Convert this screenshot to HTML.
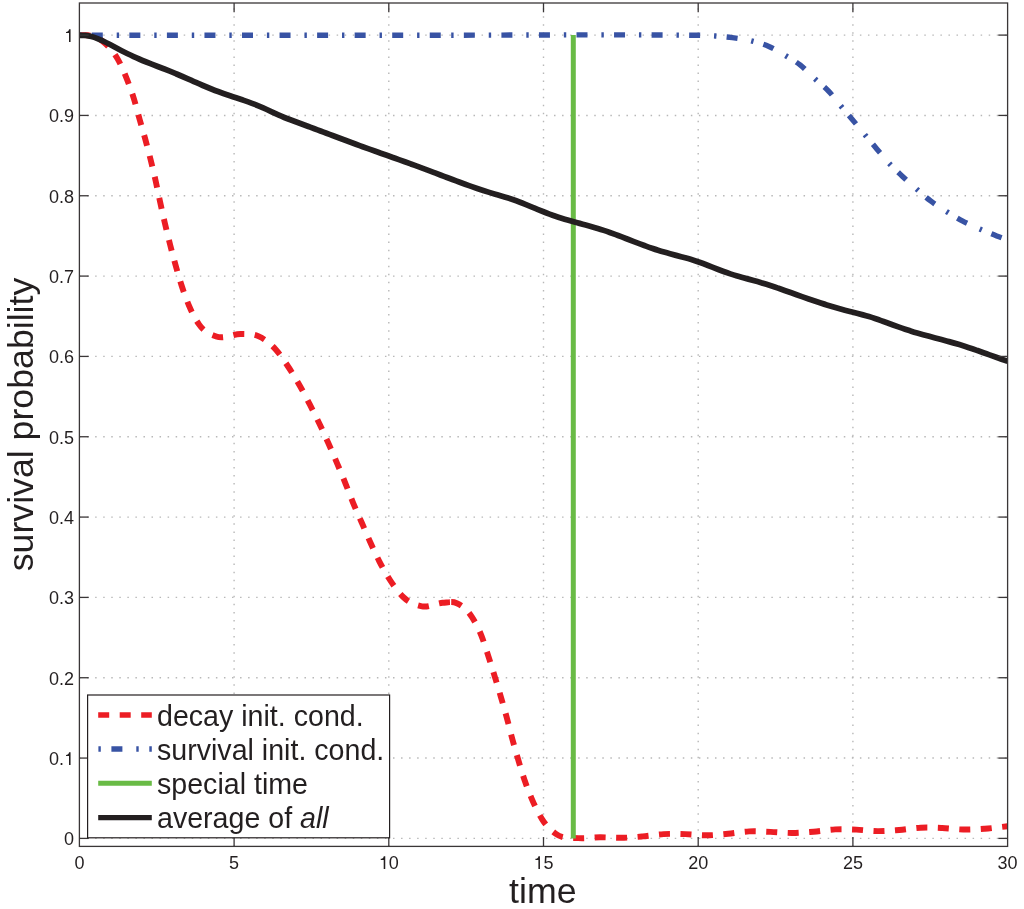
<!DOCTYPE html>
<html><head><meta charset="utf-8"><title>survival probability</title>
<style>html,body{margin:0;padding:0;background:#fff;width:1024px;height:909px;overflow:hidden;}svg{display:block;font-family:"Liberation Sans",sans-serif;}</style>
</head><body><div style="width:1024px;height:909px;will-change:transform;">
<svg width="1024" height="909" viewBox="0 0 1024 909">
<defs><clipPath id="axclip"><rect x="79.40" y="3.00" width="928.20" height="843.40"/></clipPath></defs>
<rect width="1024" height="909" fill="#fff"/>
<g stroke="#b8b8b8" stroke-width="1.4" stroke-dasharray="1.5 6.55" fill="none"><line x1="234.10" y1="846.40" x2="234.10" y2="3.00" stroke-dashoffset="0.45"/><line x1="388.80" y1="846.40" x2="388.80" y2="3.00" stroke-dashoffset="0.45"/><line x1="543.50" y1="846.40" x2="543.50" y2="3.00" stroke-dashoffset="0.45"/><line x1="698.20" y1="846.40" x2="698.20" y2="3.00" stroke-dashoffset="0.45"/><line x1="852.90" y1="846.40" x2="852.90" y2="3.00" stroke-dashoffset="0.45"/><line x1="79.40" y1="838.40" x2="1007.60" y2="838.40" stroke-dashoffset="0.35"/><line x1="79.40" y1="758.07" x2="1007.60" y2="758.07" stroke-dashoffset="0.35"/><line x1="79.40" y1="677.74" x2="1007.60" y2="677.74" stroke-dashoffset="0.35"/><line x1="79.40" y1="597.41" x2="1007.60" y2="597.41" stroke-dashoffset="0.35"/><line x1="79.40" y1="517.08" x2="1007.60" y2="517.08" stroke-dashoffset="0.35"/><line x1="79.40" y1="436.75" x2="1007.60" y2="436.75" stroke-dashoffset="0.35"/><line x1="79.40" y1="356.42" x2="1007.60" y2="356.42" stroke-dashoffset="0.35"/><line x1="79.40" y1="276.09" x2="1007.60" y2="276.09" stroke-dashoffset="0.35"/><line x1="79.40" y1="195.76" x2="1007.60" y2="195.76" stroke-dashoffset="0.35"/><line x1="79.40" y1="115.43" x2="1007.60" y2="115.43" stroke-dashoffset="0.35"/><line x1="79.40" y1="35.10" x2="1007.60" y2="35.10" stroke-dashoffset="0.35"/></g>
<g clip-path="url(#axclip)" fill="none" stroke-width="5.4">
<clipPath id="rclipA"><rect x="0" y="0" width="450" height="909"/></clipPath><clipPath id="rclipB"><rect x="450" y="0" width="600" height="909"/></clipPath>
<path d="M79.40,35.10 C82.27,35.17 85.13,34.95 88.00,35.30 C90.67,35.62 93.33,35.84 96.00,37.00 C99.00,38.31 102.00,40.51 105.00,43.20 C107.17,45.14 109.33,47.27 111.50,50.00 C113.53,52.56 115.57,55.36 117.60,58.90 C120.57,64.07 123.53,70.68 126.50,78.10 C128.90,84.10 131.30,90.38 133.70,98.10 C135.73,104.64 137.77,112.80 139.80,120.00 C141.67,126.61 143.53,132.73 145.40,139.60 C147.20,146.22 149.00,153.12 150.80,160.40 C152.43,167.01 154.07,173.77 155.70,181.10 C157.17,187.68 158.63,195.17 160.10,201.90 C161.67,209.09 163.23,216.08 164.80,222.80 C166.57,230.38 168.33,237.64 170.10,244.60 C171.93,251.83 173.77,258.75 175.60,265.30 C177.60,272.45 179.60,279.34 181.60,285.50 C184.10,293.20 186.60,300.02 189.10,305.90 C192.40,313.67 195.70,319.65 199.00,324.40 C204.73,332.66 210.47,334.27 216.20,336.40 C224.47,339.48 232.73,333.69 241.00,334.00 C246.93,334.23 252.87,333.65 258.80,336.40 C264.37,338.98 269.93,343.12 275.50,349.30 C279.80,354.08 284.10,360.49 288.40,367.00 C292.30,372.90 296.20,379.28 300.10,386.20 C303.37,392.00 306.63,398.36 309.90,404.70 C313.00,410.71 316.10,416.73 319.20,423.20 C322.27,429.60 325.33,436.42 328.40,443.30 C331.30,449.81 334.20,456.47 337.10,463.30 C339.87,469.82 342.63,476.46 345.40,483.30 C347.97,489.65 350.53,496.59 353.10,502.80 C355.97,509.73 358.83,515.92 361.70,522.50 C364.60,529.15 367.50,536.10 370.40,542.50 C373.37,549.05 376.33,555.52 379.30,561.30 C382.87,568.24 386.43,574.50 390.00,580.00 C394.40,586.78 398.80,592.77 403.20,597.00 C409.47,603.02 415.73,605.18 422.00,606.30 C428.90,607.53 435.80,603.16 442.70,602.80 C447.40,602.56 452.10,601.06 456.80,603.20 C461.87,605.50 466.93,609.17 472.00,617.10 C475.13,622.01 478.27,627.67 481.40,635.60 C483.77,641.59 486.13,649.30 488.50,656.60 C490.67,663.28 492.83,670.34 495.00,677.40 C497.00,683.92 499.00,690.46 501.00,697.30 C502.97,704.03 504.93,710.83 506.90,718.10 C508.70,724.75 510.50,732.25 512.30,738.90 C514.27,746.17 516.23,753.07 518.20,759.70 C520.37,767.00 522.53,774.20 524.70,780.50 C527.20,787.77 529.70,794.02 532.20,799.80 C535.47,807.35 538.73,813.89 542.00,819.10 C546.63,826.49 551.27,830.52 555.90,833.90 C563.37,839.34 570.83,837.55 578.30,838.10 C585.53,838.63 592.77,837.35 600.00,837.30 C607.07,837.26 614.13,837.95 621.20,837.80 C628.30,837.65 635.40,837.02 642.50,836.40 C649.53,835.78 656.57,834.49 663.60,834.10 C670.83,833.70 678.07,833.89 685.30,834.10 C692.40,834.30 699.50,835.35 706.60,835.30 C713.77,835.25 720.93,834.41 728.10,833.75 C735.13,833.10 742.17,831.71 749.20,831.40 C756.33,831.08 763.47,831.64 770.60,831.90 C777.80,832.17 785.00,833.04 792.20,833.00 C799.33,832.96 806.47,832.30 813.60,831.70 C820.80,831.10 828.00,829.74 835.20,829.40 C842.22,829.07 849.23,829.32 856.25,829.60 C863.43,829.88 870.62,831.04 877.80,831.10 C884.93,831.16 892.07,830.57 899.20,830.00 C906.33,829.43 913.47,828.04 920.60,827.70 C927.80,827.36 935.00,827.69 942.20,828.00 C949.23,828.30 956.27,829.37 963.30,829.50 C970.43,829.63 977.57,829.26 984.70,828.75 C992.33,828.20 999.97,827.05 1007.60,826.20" clip-path="url(#rclipA)" stroke="#ec1d24" stroke-width="5.9" stroke-dasharray="11 10.5" stroke-dashoffset="0"/>
<path d="M79.40,35.10 C82.27,35.17 85.13,34.95 88.00,35.30 C90.67,35.62 93.33,35.84 96.00,37.00 C99.00,38.31 102.00,40.51 105.00,43.20 C107.17,45.14 109.33,47.27 111.50,50.00 C113.53,52.56 115.57,55.36 117.60,58.90 C120.57,64.07 123.53,70.68 126.50,78.10 C128.90,84.10 131.30,90.38 133.70,98.10 C135.73,104.64 137.77,112.80 139.80,120.00 C141.67,126.61 143.53,132.73 145.40,139.60 C147.20,146.22 149.00,153.12 150.80,160.40 C152.43,167.01 154.07,173.77 155.70,181.10 C157.17,187.68 158.63,195.17 160.10,201.90 C161.67,209.09 163.23,216.08 164.80,222.80 C166.57,230.38 168.33,237.64 170.10,244.60 C171.93,251.83 173.77,258.75 175.60,265.30 C177.60,272.45 179.60,279.34 181.60,285.50 C184.10,293.20 186.60,300.02 189.10,305.90 C192.40,313.67 195.70,319.65 199.00,324.40 C204.73,332.66 210.47,334.27 216.20,336.40 C224.47,339.48 232.73,333.69 241.00,334.00 C246.93,334.23 252.87,333.65 258.80,336.40 C264.37,338.98 269.93,343.12 275.50,349.30 C279.80,354.08 284.10,360.49 288.40,367.00 C292.30,372.90 296.20,379.28 300.10,386.20 C303.37,392.00 306.63,398.36 309.90,404.70 C313.00,410.71 316.10,416.73 319.20,423.20 C322.27,429.60 325.33,436.42 328.40,443.30 C331.30,449.81 334.20,456.47 337.10,463.30 C339.87,469.82 342.63,476.46 345.40,483.30 C347.97,489.65 350.53,496.59 353.10,502.80 C355.97,509.73 358.83,515.92 361.70,522.50 C364.60,529.15 367.50,536.10 370.40,542.50 C373.37,549.05 376.33,555.52 379.30,561.30 C382.87,568.24 386.43,574.50 390.00,580.00 C394.40,586.78 398.80,592.77 403.20,597.00 C409.47,603.02 415.73,605.18 422.00,606.30 C428.90,607.53 435.80,603.16 442.70,602.80 C447.40,602.56 452.10,601.06 456.80,603.20 C461.87,605.50 466.93,609.17 472.00,617.10 C475.13,622.01 478.27,627.67 481.40,635.60 C483.77,641.59 486.13,649.30 488.50,656.60 C490.67,663.28 492.83,670.34 495.00,677.40 C497.00,683.92 499.00,690.46 501.00,697.30 C502.97,704.03 504.93,710.83 506.90,718.10 C508.70,724.75 510.50,732.25 512.30,738.90 C514.27,746.17 516.23,753.07 518.20,759.70 C520.37,767.00 522.53,774.20 524.70,780.50 C527.20,787.77 529.70,794.02 532.20,799.80 C535.47,807.35 538.73,813.89 542.00,819.10 C546.63,826.49 551.27,830.52 555.90,833.90 C563.37,839.34 570.83,837.55 578.30,838.10 C585.53,838.63 592.77,837.35 600.00,837.30 C607.07,837.26 614.13,837.95 621.20,837.80 C628.30,837.65 635.40,837.02 642.50,836.40 C649.53,835.78 656.57,834.49 663.60,834.10 C670.83,833.70 678.07,833.89 685.30,834.10 C692.40,834.30 699.50,835.35 706.60,835.30 C713.77,835.25 720.93,834.41 728.10,833.75 C735.13,833.10 742.17,831.71 749.20,831.40 C756.33,831.08 763.47,831.64 770.60,831.90 C777.80,832.17 785.00,833.04 792.20,833.00 C799.33,832.96 806.47,832.30 813.60,831.70 C820.80,831.10 828.00,829.74 835.20,829.40 C842.22,829.07 849.23,829.32 856.25,829.60 C863.43,829.88 870.62,831.04 877.80,831.10 C884.93,831.16 892.07,830.57 899.20,830.00 C906.33,829.43 913.47,828.04 920.60,827.70 C927.80,827.36 935.00,827.69 942.20,828.00 C949.23,828.30 956.27,829.37 963.30,829.50 C970.43,829.63 977.57,829.26 984.70,828.75 C992.33,828.20 999.97,827.05 1007.60,826.20" clip-path="url(#rclipB)" stroke="#ec1d24" stroke-width="5.9" stroke-dasharray="11 10.5" stroke-dashoffset="9.24"/>
<path d="M79.4,35.2 H441" stroke="#3853a4" stroke-dasharray="11 13.9 2.4 10.25" stroke-dashoffset="25.15"/>
<path d="M441.00,35.20 C524.00,35.20 607.00,34.40 690.00,35.20 C693.33,35.23 696.67,35.22 700.00,35.30 C705.07,35.42 710.13,35.65 715.20,36.00 C720.87,36.39 726.53,36.86 732.20,37.60 C738.90,38.48 745.60,39.40 752.30,41.10 C757.83,42.50 763.37,44.00 768.90,46.40 C774.73,48.93 780.57,52.58 786.40,56.10 C790.97,58.86 795.53,61.33 800.10,64.90 C805.30,68.97 810.50,74.84 815.70,79.60 C820.07,83.60 824.43,86.66 828.80,91.30 C832.90,95.65 837.00,101.39 841.10,106.30 C844.90,110.85 848.70,115.18 852.50,119.70 C856.83,124.86 861.17,130.20 865.50,135.40 C869.27,139.92 873.03,144.46 876.80,148.90 C881.23,154.12 885.67,159.59 890.10,164.30 C894.17,168.62 898.23,172.37 902.30,176.20 C907.33,180.94 912.37,185.43 917.40,189.80 C921.80,193.62 926.20,197.54 930.60,200.90 C936.20,205.18 941.80,208.61 947.40,212.10 C952.37,215.19 957.33,218.16 962.30,220.80 C968.47,224.07 974.63,226.72 980.80,229.40 C986.10,231.70 991.40,233.89 996.70,235.90 C1000.33,237.28 1003.97,238.50 1007.60,239.80" stroke="#3853a4" stroke-dasharray="11 13.9 2.4 10.25" stroke-dashoffset="14.7"/>
<line x1="573.30" y1="838.40" x2="573.30" y2="35.10" stroke="#69bb46" stroke-width="5"/>
<path d="M79.40,35.44 C81.41,35.22 83.42,35.23 85.43,35.44 C87.44,35.64 89.45,36.03 91.45,36.57 C93.46,37.10 95.47,37.79 97.48,38.58 C99.49,39.37 101.50,40.27 103.51,41.24 C105.52,42.20 107.53,43.23 109.54,44.29 C111.55,45.35 113.55,46.43 115.56,47.50 C117.57,48.58 119.58,49.65 121.59,50.71 C123.60,51.76 125.61,52.78 127.62,53.77 C129.63,54.76 131.64,55.70 133.65,56.62 C135.65,57.53 137.66,58.41 139.67,59.26 C141.68,60.11 143.69,60.93 145.70,61.74 C147.71,62.55 149.72,63.34 151.73,64.12 C153.74,64.90 155.75,65.68 157.75,66.45 C159.76,67.22 161.77,68.00 163.78,68.78 C165.79,69.56 167.80,70.35 169.81,71.16 C171.82,71.97 173.83,72.80 175.84,73.65 C177.85,74.50 179.85,75.37 181.86,76.24 C183.87,77.12 185.88,78.00 187.89,78.89 C189.90,79.78 191.91,80.67 193.92,81.56 C195.93,82.44 197.94,83.33 199.95,84.20 C201.95,85.07 203.96,85.93 205.97,86.77 C207.98,87.61 209.99,88.43 212.00,89.23 C214.01,90.03 216.02,90.80 218.03,91.54 C220.04,92.28 222.05,92.99 224.05,93.69 C226.06,94.38 228.07,95.06 230.08,95.74 C232.09,96.41 234.10,97.08 236.11,97.75 C238.12,98.41 240.13,99.09 242.14,99.77 C244.15,100.46 246.15,101.16 248.16,101.88 C250.17,102.60 252.18,103.34 254.19,104.12 C256.20,104.90 258.21,105.71 260.22,106.56 C262.23,107.41 264.24,108.31 266.25,109.25 C268.25,110.19 270.26,111.15 272.27,112.11 C274.28,113.07 276.29,114.02 278.30,114.92 C280.31,115.82 282.32,116.67 284.33,117.47 C286.34,118.28 288.35,119.04 290.35,119.79 C292.36,120.54 294.37,121.27 296.38,122.00 C298.39,122.74 300.40,123.47 302.41,124.22 C304.42,124.96 306.43,125.71 308.44,126.46 C310.45,127.20 312.45,127.96 314.46,128.71 C316.47,129.46 318.48,130.22 320.49,130.97 C322.50,131.73 324.51,132.48 326.52,133.24 C328.53,134.00 330.54,134.75 332.55,135.51 C334.55,136.27 336.56,137.02 338.57,137.78 C340.58,138.53 342.59,139.28 344.60,140.03 C346.61,140.78 348.62,141.53 350.63,142.27 C352.64,143.02 354.65,143.76 356.65,144.50 C358.66,145.23 360.67,145.97 362.68,146.70 C364.69,147.43 366.70,148.15 368.71,148.87 C370.72,149.59 372.73,150.31 374.74,151.03 C376.75,151.75 378.75,152.46 380.76,153.17 C382.77,153.89 384.78,154.60 386.79,155.31 C388.80,156.03 390.81,156.74 392.82,157.45 C394.83,158.17 396.84,158.88 398.85,159.60 C400.85,160.31 402.86,161.03 404.87,161.75 C406.88,162.47 408.89,163.20 410.90,163.93 C412.91,164.65 414.92,165.39 416.93,166.12 C418.94,166.86 420.95,167.60 422.95,168.35 C424.96,169.10 426.97,169.85 428.98,170.61 C430.99,171.37 433.00,172.13 435.01,172.89 C437.02,173.66 439.03,174.43 441.04,175.19 C443.05,175.96 445.05,176.72 447.06,177.49 C449.07,178.25 451.08,179.01 453.09,179.77 C455.10,180.52 457.11,181.27 459.12,182.02 C461.13,182.76 463.14,183.50 465.15,184.22 C467.15,184.95 469.16,185.67 471.17,186.38 C473.18,187.08 475.19,187.78 477.20,188.46 C479.21,189.14 481.22,189.81 483.23,190.46 C485.24,191.11 487.25,191.75 489.25,192.37 C491.26,192.98 493.27,193.59 495.28,194.19 C497.29,194.79 499.30,195.38 501.31,195.99 C503.32,196.59 505.33,197.20 507.34,197.84 C509.35,198.47 511.35,199.12 513.36,199.81 C515.37,200.49 517.38,201.21 519.39,201.96 C521.40,202.71 523.41,203.51 525.42,204.32 C527.43,205.14 529.44,205.97 531.45,206.81 C533.45,207.65 535.46,208.50 537.47,209.33 C539.48,210.16 541.49,210.98 543.50,211.78 C545.51,212.58 547.52,213.36 549.53,214.11 C551.54,214.86 553.55,215.58 555.55,216.26 C557.56,216.95 559.57,217.60 561.58,218.23 C563.59,218.86 565.60,219.47 567.61,220.05 C569.62,220.63 571.63,221.20 573.64,221.75 C575.65,222.31 577.65,222.85 579.66,223.39 C581.67,223.93 583.68,224.47 585.69,225.01 C587.70,225.56 589.71,226.11 591.72,226.69 C593.73,227.26 595.74,227.84 597.75,228.46 C599.75,229.07 601.76,229.71 603.77,230.38 C605.78,231.05 607.79,231.74 609.80,232.46 C611.81,233.17 613.82,233.91 615.83,234.65 C617.84,235.40 619.85,236.16 621.85,236.93 C623.86,237.69 625.87,238.47 627.88,239.24 C629.89,240.02 631.90,240.80 633.91,241.57 C635.92,242.34 637.93,243.10 639.94,243.86 C641.95,244.62 643.95,245.36 645.96,246.09 C647.97,246.82 649.98,247.54 651.99,248.23 C654.00,248.92 656.01,249.60 658.02,250.24 C660.03,250.89 662.04,251.51 664.05,252.10 C666.05,252.69 668.06,253.25 670.07,253.79 C672.08,254.33 674.09,254.86 676.10,255.38 C678.11,255.90 680.12,256.43 682.13,256.96 C684.14,257.49 686.15,258.04 688.15,258.61 C690.16,259.19 692.17,259.79 694.18,260.43 C696.19,261.07 698.20,261.76 700.21,262.49 C702.22,263.21 704.23,263.97 706.24,264.75 C708.25,265.53 710.25,266.32 712.26,267.12 C714.27,267.92 716.28,268.71 718.29,269.50 C720.30,270.28 722.31,271.05 724.32,271.78 C726.33,272.52 728.34,273.22 730.35,273.88 C732.35,274.53 734.36,275.16 736.37,275.75 C738.38,276.35 740.39,276.92 742.40,277.48 C744.41,278.03 746.42,278.58 748.43,279.12 C750.44,279.67 752.45,280.21 754.45,280.77 C756.46,281.32 758.47,281.89 760.48,282.48 C762.49,283.07 764.50,283.68 766.51,284.32 C768.52,284.95 770.53,285.60 772.54,286.27 C774.55,286.93 776.55,287.62 778.56,288.31 C780.57,289.00 782.58,289.70 784.59,290.41 C786.60,291.12 788.61,291.84 790.62,292.56 C792.63,293.28 794.64,294.00 796.65,294.72 C798.65,295.44 800.66,296.16 802.67,296.88 C804.68,297.59 806.69,298.30 808.70,299.00 C810.71,299.70 812.72,300.39 814.73,301.07 C816.74,301.75 818.75,302.42 820.75,303.08 C822.76,303.73 824.77,304.38 826.78,305.00 C828.79,305.63 830.80,306.24 832.81,306.84 C834.82,307.43 836.83,308.01 838.84,308.57 C840.85,309.12 842.85,309.66 844.86,310.18 C846.87,310.71 848.88,311.22 850.89,311.74 C852.90,312.25 854.91,312.76 856.92,313.28 C858.93,313.81 860.94,314.34 862.95,314.89 C864.95,315.44 866.96,316.01 868.97,316.61 C870.98,317.21 872.99,317.85 875.00,318.51 C877.01,319.18 879.02,319.87 881.03,320.59 C883.04,321.30 885.05,322.03 887.05,322.76 C889.06,323.50 891.07,324.24 893.08,324.98 C895.09,325.71 897.10,326.44 899.11,327.15 C901.12,327.87 903.13,328.56 905.14,329.23 C907.15,329.89 909.15,330.53 911.16,331.16 C913.17,331.78 915.18,332.38 917.19,332.96 C919.20,333.55 921.21,334.12 923.22,334.68 C925.23,335.24 927.24,335.79 929.25,336.33 C931.25,336.87 933.26,337.41 935.27,337.95 C937.28,338.48 939.29,339.02 941.30,339.55 C943.31,340.09 945.32,340.63 947.33,341.18 C949.34,341.73 951.35,342.29 953.35,342.86 C955.36,343.43 957.37,344.01 959.38,344.61 C961.39,345.21 963.40,345.83 965.41,346.46 C967.42,347.10 969.43,347.77 971.44,348.45 C973.45,349.13 975.45,349.84 977.46,350.55 C979.47,351.26 981.48,351.99 983.49,352.72 C985.50,353.45 987.51,354.18 989.52,354.91 C991.53,355.64 993.54,356.37 995.55,357.08 C997.55,357.80 999.56,358.50 1001.57,359.19 C1003.58,359.87 1005.59,360.54 1007.60,361.18" stroke="#231f20" stroke-width="5.75" stroke-linejoin="round"/>
</g>
<g stroke="#3a3637" stroke-width="1.3" fill="none"><rect x="79.40" y="3.00" width="928.20" height="843.40" fill="none"/><line x1="234.10" y1="846.40" x2="234.10" y2="837.10" /><line x1="234.10" y1="3.00" x2="234.10" y2="12.30" /><line x1="388.80" y1="846.40" x2="388.80" y2="837.10" /><line x1="388.80" y1="3.00" x2="388.80" y2="12.30" /><line x1="543.50" y1="846.40" x2="543.50" y2="837.10" /><line x1="543.50" y1="3.00" x2="543.50" y2="12.30" /><line x1="698.20" y1="846.40" x2="698.20" y2="837.10" /><line x1="698.20" y1="3.00" x2="698.20" y2="12.30" /><line x1="852.90" y1="846.40" x2="852.90" y2="837.10" /><line x1="852.90" y1="3.00" x2="852.90" y2="12.30" /><line x1="79.40" y1="838.40" x2="88.70" y2="838.40" /><line x1="1007.60" y1="838.40" x2="998.30" y2="838.40" /><line x1="79.40" y1="758.07" x2="88.70" y2="758.07" /><line x1="1007.60" y1="758.07" x2="998.30" y2="758.07" /><line x1="79.40" y1="677.74" x2="88.70" y2="677.74" /><line x1="1007.60" y1="677.74" x2="998.30" y2="677.74" /><line x1="79.40" y1="597.41" x2="88.70" y2="597.41" /><line x1="1007.60" y1="597.41" x2="998.30" y2="597.41" /><line x1="79.40" y1="517.08" x2="88.70" y2="517.08" /><line x1="1007.60" y1="517.08" x2="998.30" y2="517.08" /><line x1="79.40" y1="436.75" x2="88.70" y2="436.75" /><line x1="1007.60" y1="436.75" x2="998.30" y2="436.75" /><line x1="79.40" y1="356.42" x2="88.70" y2="356.42" /><line x1="1007.60" y1="356.42" x2="998.30" y2="356.42" /><line x1="79.40" y1="276.09" x2="88.70" y2="276.09" /><line x1="1007.60" y1="276.09" x2="998.30" y2="276.09" /><line x1="79.40" y1="195.76" x2="88.70" y2="195.76" /><line x1="1007.60" y1="195.76" x2="998.30" y2="195.76" /><line x1="79.40" y1="115.43" x2="88.70" y2="115.43" /><line x1="1007.60" y1="115.43" x2="998.30" y2="115.43" /><line x1="79.40" y1="35.10" x2="88.70" y2="35.10" /><line x1="1007.60" y1="35.10" x2="998.30" y2="35.10" /></g>
<g font-family="Liberation Sans, sans-serif" font-size="18" fill="#231f20"><text x="74.39" y="869.00">0</text><text x="229.09" y="869.00">5</text><path d="M359,0 H273 V504 H108 V566 C196,568 258,600 278,709 H359 Z" transform="translate(378.79,869.00) scale(0.0180,-0.0180)"/><text x="388.80" y="869.00">0</text><path d="M359,0 H273 V504 H108 V566 C196,568 258,600 278,709 H359 Z" transform="translate(533.49,869.00) scale(0.0180,-0.0180)"/><text x="543.50" y="869.00">5</text><text x="688.19" y="869.00">2</text><text x="698.20" y="869.00">0</text><text x="842.89" y="869.00">2</text><text x="852.90" y="869.00">5</text><text x="997.59" y="869.00">3</text><text x="1007.60" y="869.00">0</text><text x="64.09" y="845.40">0</text><text x="49.08" y="765.07">0</text><text x="59.09" y="765.07">.</text><path d="M359,0 H273 V504 H108 V566 C196,568 258,600 278,709 H359 Z" transform="translate(64.09,765.07) scale(0.0180,-0.0180)"/><text x="49.08" y="684.74">0</text><text x="59.09" y="684.74">.</text><text x="64.09" y="684.74">2</text><text x="49.08" y="604.41">0</text><text x="59.09" y="604.41">.</text><text x="64.09" y="604.41">3</text><text x="49.08" y="524.08">0</text><text x="59.09" y="524.08">.</text><text x="64.09" y="524.08">4</text><text x="49.08" y="443.75">0</text><text x="59.09" y="443.75">.</text><text x="64.09" y="443.75">5</text><text x="49.08" y="363.42">0</text><text x="59.09" y="363.42">.</text><text x="64.09" y="363.42">6</text><text x="49.08" y="283.09">0</text><text x="59.09" y="283.09">.</text><text x="64.09" y="283.09">7</text><text x="49.08" y="202.76">0</text><text x="59.09" y="202.76">.</text><text x="64.09" y="202.76">8</text><text x="49.08" y="122.43">0</text><text x="59.09" y="122.43">.</text><text x="64.09" y="122.43">9</text><path d="M359,0 H273 V504 H108 V566 C196,568 258,600 278,709 H359 Z" transform="translate(64.09,42.10) scale(0.0180,-0.0180)"/></g>
<text x="542.8" y="902.6" text-anchor="middle" font-family="Liberation Sans, sans-serif" font-size="35.7" fill="#231f20">time</text>
<text transform="translate(33,424.5) rotate(-90)" text-anchor="middle" font-family="Liberation Sans, sans-serif" font-size="35.7" fill="#231f20">survival probability</text>
<rect x="87.60" y="695.00" width="302.00" height="142.80" fill="#fff" stroke="#231f20" stroke-width="1.2"/><line x1="98.20" y1="715.00" x2="151.80" y2="715.00" stroke="#ec1d24" stroke-width="5.6" stroke-dasharray="11 10.5" stroke-dashoffset="0"/><text x="157" y="725.50" font-family="Liberation Sans, sans-serif" font-size="28.6" fill="#231f20">decay init. cond.</text><line x1="98.20" y1="749.00" x2="151.80" y2="749.00" stroke="#3853a4" stroke-width="5.6" stroke-dasharray="11 13.9 2.4 10.6" stroke-dashoffset="24.7"/><text x="157" y="759.50" font-family="Liberation Sans, sans-serif" font-size="28.6" fill="#231f20">survival init. cond.</text><line x1="98.20" y1="783.20" x2="151.80" y2="783.20" stroke="#69bb46" stroke-width="5.0"/><text x="157" y="793.70" font-family="Liberation Sans, sans-serif" font-size="28.6" fill="#231f20">special time</text><line x1="98.20" y1="817.60" x2="151.80" y2="817.60" stroke="#231f20" stroke-width="5.2"/><text x="157" y="828.10" font-family="Liberation Sans, sans-serif" font-size="28.6" fill="#231f20">average of <tspan font-style="italic">all</tspan></text>
</svg>
</div></body></html>
